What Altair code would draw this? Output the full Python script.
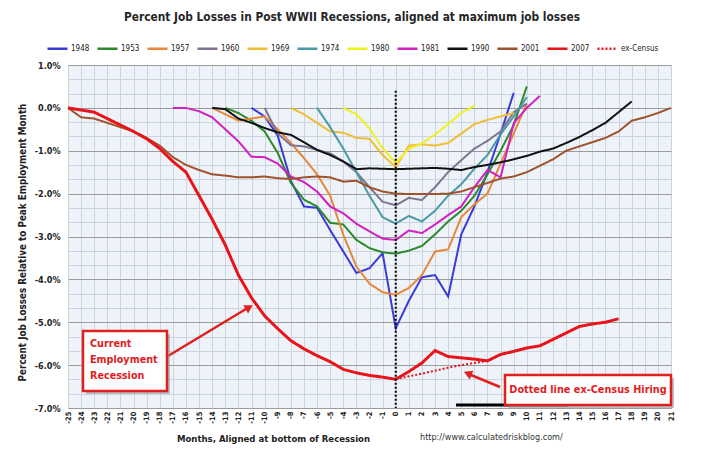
import altair as alt
import pandas as pd

FONT = "DejaVu Sans Condensed, Liberation Sans, sans-serif"

series_names = ["1948", "1953", "1957", "1960", "1969", "1974", "1980",
                "1981", "1990", "2001", "2007", "ex-Census"]
series_colors = ["#3a3ad8", "#2a8a2a", "#e8873a", "#7f7391", "#f0be34",
                 "#4b98a6", "#f0f020", "#d11fc2", "#111111", "#a0522d",
                 "#e8141a", "#e8141a"]

# start month of each series and its monthly values (% change from peak)
start_month = {"1948": -11, "1953": -13, "1957": -14, "1960": -10, "1969": -8,
               "1974": -6, "1980": -4, "1981": -17, "1990": -14, "2001": -25,
               "2007": -25, "ex-Census": 0}

v_1948 = [0, -0.2, -0.65, -1.7, -2.3, -2.33, -2.85, -3.35, -3.85, -3.74, -3.39,
          -5.14, -4.5, -3.95, -3.9, -4.4, -2.95, -2.3, -1.5, -0.6, 0.35]
v_1953 = [0, -0.12, -0.3, -0.55, -1.05, -1.75, -2.14, -2.3, -2.68, -2.72, -3.08,
          -3.27, -3.37, -3.4, -3.33, -3.22, -2.95, -2.65, -2.4, -2.05, -1.55,
          -1.0, -0.4, 0.5]
v_1957 = [0, -0.15, -0.3, -0.25, -0.2, -0.5, -0.82, -1.17, -1.55, -2.05, -2.96,
          -3.7, -4.1, -4.3, -4.36, -4.2, -3.9, -3.35, -3.3, -2.55, -2.25, -2.0,
          -1.3, -0.6, 0.1]
v_1960 = [0, -0.6, -0.87, -0.9, -0.98, -1.06, -1.25, -1.5, -1.85, -2.19, -2.27,
          -2.1, -2.15, -1.85, -1.5, -1.22, -0.95, -0.77, -0.55, -0.1, 0.1]
v_1969 = [0, -0.15, -0.35, -0.55, -0.58, -0.7, -0.72, -1.1, -1.38, -0.88, -0.85,
          -0.88, -0.82, -0.6, -0.38, -0.28, -0.2, -0.12]
v_1974 = [0, -0.45, -0.95, -1.5, -2.05, -2.55, -2.7, -2.52, -2.65, -2.4, -2.05,
          -1.78, -1.42, -1.1, -0.62, -0.2, 0.25]
v_1980 = [0, -0.15, -0.48, -0.94, -1.28, -0.95, -0.83, -0.62, -0.38, -0.12, 0.05]
v_1981 = [0, 0, -0.08, -0.22, -0.5, -0.78, -1.14, -1.15, -1.3, -1.6, -1.73,
          -1.95, -2.3, -2.46, -2.7, -2.88, -3.05, -3.08, -2.86, -2.92, -2.72,
          -2.5, -2.3, -1.85, -1.45, -1.62, -0.36, 0.0, 0.28]
v_1990 = [0, -0.03, -0.25, -0.35, -0.47, -0.57, -0.63, -0.8, -0.98, -1.1, -1.25,
          -1.43, -1.41, -1.42, -1.43, -1.42, -1.41, -1.4, -1.42, -1.45, -1.38,
          -1.33, -1.27, -1.2, -1.12, -1.02, -0.95, -0.82, -0.68, -0.52, -0.35,
          -0.1, 0.15]
v_2001 = [0, -0.22, -0.25, -0.35, -0.45, -0.55, -0.7, -0.88, -1.15, -1.33, -1.45,
          -1.55, -1.58, -1.62, -1.62, -1.6, -1.64, -1.66, -1.62, -1.6, -1.62,
          -1.72, -1.7, -1.85, -1.95, -2.0, -2.01, -2.01, -2.01, -2.0, -1.95,
          -1.85, -1.75, -1.65, -1.6, -1.5, -1.35, -1.2, -1.0, -0.9, -0.8, -0.7,
          -0.55, -0.3, -0.22, -0.12, 0.0]
v_2007 = [0, -0.05, -0.1, -0.25, -0.4, -0.55, -0.72, -0.95, -1.25, -1.5, -2.05,
          -2.6, -3.2, -3.9, -4.43, -4.85, -5.15, -5.43, -5.62, -5.78, -5.92,
          -6.1, -6.18, -6.24, -6.28, -6.33, -6.15, -5.95, -5.66, -5.8, -5.83,
          -5.86, -5.9, -5.75, -5.68, -5.6, -5.55, -5.4, -5.25, -5.1, -5.04,
          -5.0, -4.92]
v_census = [-6.33, -6.26, -6.2, -6.13, -6.06, -6.0, -5.95, -5.9]

values = {"1948": v_1948, "1953": v_1953, "1957": v_1957, "1960": v_1960,
          "1969": v_1969, "1974": v_1974, "1980": v_1980, "1981": v_1981,
          "1990": v_1990, "2001": v_2001, "2007": v_2007, "ex-Census": v_census}

rows = []
for name in series_names:
    for i, v in enumerate(values[name]):
        rows.append({"series": name, "month": start_month[name] + i, "value": v})
df = pd.DataFrame(rows)
hist = df[~df["series"].isin(["2007", "ex-Census"])]
cur = df[df["series"] == "2007"]
census = df[df["series"] == "ex-Census"]

month_ticks = list(range(-25, 22))
y_ticks = [i / 3 for i in range(-21, 4)]

# reference marks: zero-month dotted line and the stray black bar at the bottom
zero_line = pd.DataFrame({"month": [0], "value": [0.4], "value2": [-7.0]})
bottom_bar = pd.DataFrame({"month": [4.6], "month2": [13.2], "value": [-6.93]})

xscale = alt.Scale(domain=[-25, 21], nice=False, zero=False)
yscale = alt.Scale(domain=[-7, 1], nice=False, zero=False)

xaxis = alt.Axis(values=month_ticks,
                 labelExpr="(datum.value < 0 ? '-' : '') + abs(datum.value)",
                 labelAngle=270, labelFontSize=7.5, labelFontWeight="bold",
                 labelFont=FONT, labelColor="#222", labelPadding=3,
                 ticks=False, domain=False, grid=True, gridColor="#cbd4df",
                 title="Months, Aligned at bottom of Recession",
                 titleFont=FONT, titleFontSize=9.5, titleFontWeight="bold",
                 titleColor="#222", titleX=205, titleY=33,
                 titleAlign="center", titleBaseline="alphabetic")
yaxis = alt.Axis(values=y_ticks,
                 labelExpr="abs(datum.value - round(datum.value)) < 0.01 ? "
                           "((datum.value < -0.01 ? '-' : '') + format(abs(datum.value), '.1f') + '%') : ''",
                 labelFontSize=9, labelFontWeight="bold", labelFont=FONT,
                 labelColor="#222", labelPadding=8, ticks=False, domain=False,
                 grid=True,
                 gridColor={"condition": {"test": "abs(datum.value - round(datum.value)) < 0.01",
                                          "value": "#9c9c9c"},
                            "value": "#cbd4df"},
                 title="Percent Job Losses Relative to Peak Employment Month",
                 titleFont=FONT, titleFontSize=9.8, titleFontWeight="bold",
                 titleColor="#222", titleAngle=270, titleX=-46, titleY=177,
                 titleAlign="center", titleBaseline="middle")

X = alt.X("month:Q", scale=xscale, axis=xaxis)
Y = alt.Y("value:Q", scale=yscale, axis=yaxis)

legend = alt.Legend(orient="none", legendX=-22, legendY=-28, direction="horizontal",
                    columns=12, title=None, symbolType="stroke", symbolSize=400,
                    symbolStrokeWidth=2.5, labelFont=FONT, labelFontSize=8,
                    labelColor="#222", labelOffset=2, columnPadding=2)
COLOR = alt.Color("series:N", scale=alt.Scale(domain=series_names, range=series_colors),
                  legend=legend)
DASH = alt.StrokeDash("series:N",
                      scale=alt.Scale(domain=series_names,
                                      range=[[1, 0]] * 11 + [[2, 2]]),
                      legend=legend)

one = pd.DataFrame({"k": [0]})
RED = "#e0201f"

lines_hist = alt.Chart(hist).mark_line(strokeWidth=2).encode(
    x=X, y=Y, color=COLOR, strokeDash=DASH, detail="series:N")
lines_cur = alt.Chart(cur).mark_line(strokeWidth=3).encode(
    x=X, y=Y, color=COLOR, strokeDash=DASH)
lines_census = alt.Chart(census).mark_line(strokeWidth=2).encode(
    x=X, y=Y, color=COLOR, strokeDash=DASH)

zero_rule = alt.Chart(zero_line).mark_rule(color="black", strokeWidth=2,
                                           strokeDash=[2, 2]).encode(
    x=X, y=Y, y2="value2:Q")
bar_rule = alt.Chart(bottom_bar).mark_rule(color="black", strokeWidth=3).encode(
    x=X, x2="month2:Q", y=Y)

title = alt.Chart(one).mark_text(
    text="Percent Job Losses in Post WWII Recessions, aligned at maximum job losses",
    font=FONT, fontSize=11.8, fontWeight="bold", color="#262626",
    align="center", baseline="middle").encode(x=alt.value(284), y=alt.value(-48))
url = alt.Chart(one).mark_text(
    text="http://www.calculatedriskblog.com/", font=FONT, fontSize=9,
    color="#333", align="left", baseline="middle").encode(
    x=alt.value(352), y=alt.value(372))

shadow1 = alt.Chart(one).mark_rect(fill="#9a9a9a", opacity=0.6).encode(
    x=alt.value(18), x2=alt.value(102), y=alt.value(269), y2=alt.value(329))
box1 = alt.Chart(one).mark_rect(fill="white", stroke=RED, strokeWidth=2.5).encode(
    x=alt.value(15), x2=alt.value(99), y=alt.value(266), y2=alt.value(326))
text1 = alt.Chart(one).mark_text(
    text=["Current", "Employment", "Recession"], lineHeight=16, font=FONT,
    fontSize=10.7, fontWeight="bold", color=RED, align="left",
    baseline="middle").encode(x=alt.value(22), y=alt.value(279))
shadow2 = alt.Chart(one).mark_rect(fill="#9a9a9a", opacity=0.6).encode(
    x=alt.value(440), x2=alt.value(606), y=alt.value(313), y2=alt.value(343))
box2 = alt.Chart(one).mark_rect(fill="white", stroke=RED, strokeWidth=2.5).encode(
    x=alt.value(437), x2=alt.value(603), y=alt.value(310), y2=alt.value(340))
text2 = alt.Chart(one).mark_text(
    text="Dotted line ex-Census Hiring", font=FONT, fontSize=10.8,
    fontWeight="bold", color=RED, align="center", baseline="middle").encode(
    x=alt.value(520), y=alt.value(325))

arrow1 = alt.Chart(one).mark_rule(color=RED, strokeWidth=2.5).encode(
    x=alt.value(100), y=alt.value(291), x2=alt.value(178), y2=alt.value(244))
head1 = alt.Chart(one).mark_point(shape="triangle", filled=True, color=RED,
                                  size=90, angle=59, opacity=1).encode(
    x=alt.value(180), y=alt.value(243))
arrow2 = alt.Chart(one).mark_rule(color=RED, strokeWidth=2.5).encode(
    x=alt.value(432), y=alt.value(322), x2=alt.value(403), y2=alt.value(310))
head2 = alt.Chart(one).mark_point(shape="triangle", filled=True, color=RED,
                                  size=90, angle=293, opacity=1).encode(
    x=alt.value(401), y=alt.value(309))

chart = alt.layer(
    lines_hist, lines_cur, lines_census, zero_rule, bar_rule,
    title, url, arrow1, head1, arrow2, head2,
    shadow1, box1, text1, shadow2, box2, text2
).properties(
    width=603, height=343, autosize="none", background="white",
    padding={"left": 60, "top": 57, "right": 25, "bottom": 46}
).configure_view(fill="#eef3f9", stroke="#b0b0b0")

chart.save("out.html", embed_options={"renderer": "svg", "actions": False})
